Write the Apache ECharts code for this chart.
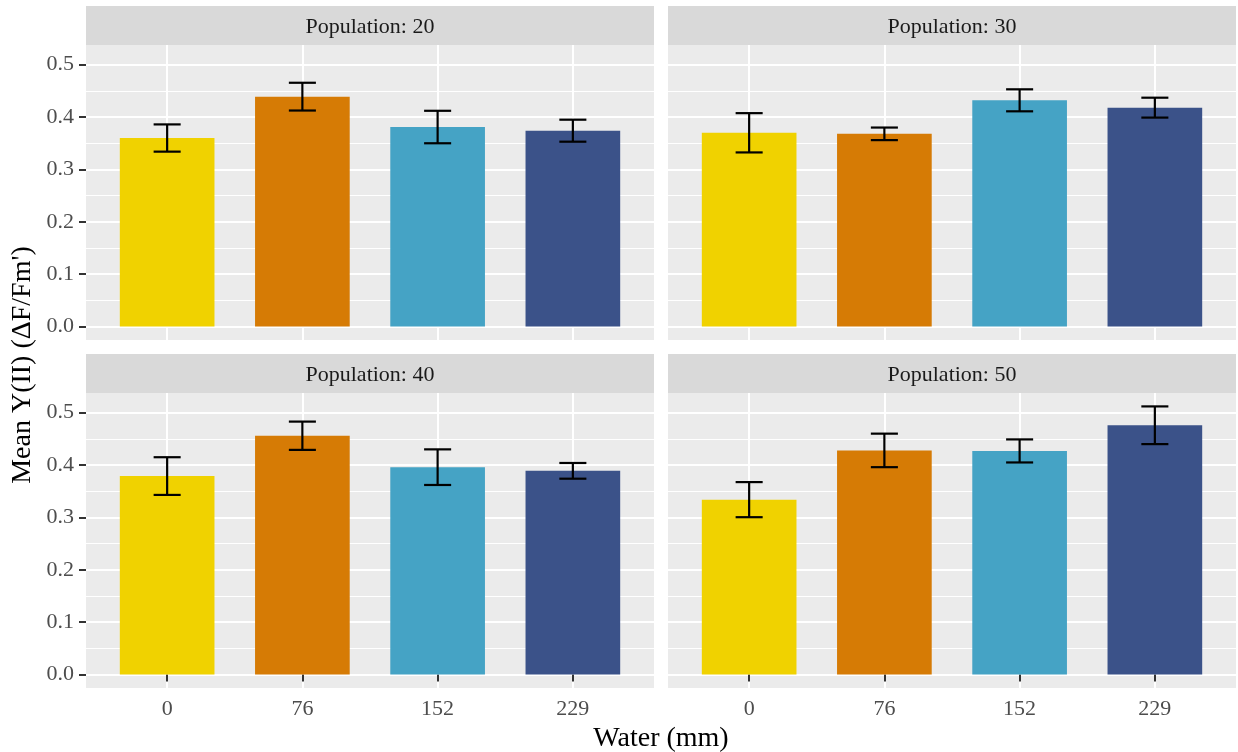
<!DOCTYPE html>
<html>
<head>
<meta charset="utf-8">
<script src="https://cdn.jsdelivr.net/npm/echarts@6/dist/echarts.min.js"></script>
<style>
  html, body { margin: 0; padding: 0; background: #fff; }
  #main { width: 1238px; height: 752px; }
</style>
</head>
<body>
<div id="main"></div>
<script>
// data
const water = ['0', '76', '152', '229'];
const populations = ['20', '30', '40', '50'];
const meanPop20 = [0.360, 0.439, 0.381, 0.374];
const meanPop30 = [0.370, 0.368, 0.432, 0.418];
const meanPop40 = [0.379, 0.456, 0.396, 0.389];
const meanPop50 = [0.334, 0.428, 0.427, 0.476];
const sePop20 = [0.026, 0.0265, 0.031, 0.021];
const sePop30 = [0.0375, 0.012, 0.021, 0.019];
const sePop40 = [0.036, 0.027, 0.034, 0.015];
const sePop50 = [0.0335, 0.032, 0.022, 0.036];
const yTicks = [0, 0.1, 0.2, 0.3, 0.4, 0.5];
const yMinor = [0.05, 0.15, 0.25, 0.35, 0.45];
const barColors = ['#F0D200', '#D67B05', '#45A3C5', '#3B5289'];

const means = [meanPop20, meanPop30, meanPop40, meanPop50];
const ses = [sePop20, sePop30, sePop40, sePop50];

// ggplot style expansion of the shared y scale
let yTop = 0;
means.forEach((m, i) => m.forEach((v, j) => { yTop = Math.max(yTop, v + ses[i][j]); }));
const yMin = -0.05 * yTop, yMax = 1.05 * yTop;

const FONT = '"Liberation Serif", "DejaVu Serif", serif';
const panels = [
  {left: 86, top: 45}, {left: 668, top: 45},
  {left: 86, top: 393}, {left: 668, top: 393}
];
const PW = 568, PH = 295, STRIP = 39;

const chart = echarts.init(document.getElementById('main'));

const grid = [], xAxis = [], yAxis = [], series = [], graphic = [];
panels.forEach((p, i) => {
  grid.push({left: p.left, top: p.top, width: PW, height: PH, show: true,
    backgroundColor: '#EBEBEB', borderWidth: 0, containLabel: false});
  const bottomRow = i >= 2, leftCol = i % 2 === 0;
  xAxis.push({
    type: 'value', gridIndex: i, min: 0.4, max: 4.6,
    axisLine: {show: false},
    axisTick: {show: bottomRow, length: 7, lineStyle: {color: '#333', width: 2}, customValues: [1, 2, 3, 4]},
    axisLabel: {show: bottomRow, customValues: [1, 2, 3, 4], margin: 10, fontSize: 22,
      fontFamily: FONT, color: '#4D4D4D', formatter: v => water[Math.round(v) - 1]},
    splitLine: {show: true, lineStyle: {color: '#fff', width: 2}}
  });
  yAxis.push({
    type: 'value', gridIndex: i, min: yMin, max: yMax,
    axisLine: {show: false},
    axisTick: {show: leftCol, length: 7, lineStyle: {color: '#333', width: 2}, customValues: yTicks},
    axisLabel: {show: leftCol, customValues: yTicks, margin: 12, fontSize: 22,
      fontFamily: FONT, color: '#4D4D4D', formatter: v => v.toFixed(1)},
    splitLine: {show: true, lineStyle: {color: '#fff', width: 2}}
  });
  // minor grid
  yAxis.push({
    type: 'value', gridIndex: i, min: yMin, max: yMax,
    axisLine: {show: false}, axisLabel: {show: false},
    axisTick: {show: false, customValues: yMinor},
    splitLine: {show: true, lineStyle: {color: '#fff', width: 1}}
  });
  const yIdx = i * 2;
  const barData = means[i].map((v, j) => [j + 1, v, j]);
  const errData = means[i].map((v, j) => [j + 1, v - ses[i][j], v + ses[i][j]]);
  series.push({
    type: 'custom', xAxisIndex: i, yAxisIndex: yIdx, data: barData,
    renderItem: (params, api) => {
      const x = api.value(0), y = api.value(1);
      const pTop = api.coord([x, y]);
      const pBase = api.coord([x, 0]);
      const w = api.size([0.7, 0])[0];
      return {type: 'rect',
        shape: {x: pTop[0] - w / 2, y: pTop[1], width: w, height: pBase[1] - pTop[1]},
        style: {fill: barColors[api.value(2)]}};
    }
  });
  series.push({
    type: 'custom', xAxisIndex: i, yAxisIndex: yIdx, data: errData, z: 5,
    renderItem: (params, api) => {
      const x = api.value(0);
      const lo = api.coord([x, api.value(1)]);
      const hi = api.coord([x, api.value(2)]);
      const hw = api.size([0.2, 0])[0] / 2;
      const st = {stroke: '#000', lineWidth: 2.2};
      return {type: 'group', children: [
        {type: 'line', shape: {x1: lo[0], y1: lo[1], x2: hi[0], y2: hi[1]}, style: st},
        {type: 'line', shape: {x1: hi[0] - hw, y1: hi[1], x2: hi[0] + hw, y2: hi[1]}, style: st},
        {type: 'line', shape: {x1: lo[0] - hw, y1: lo[1], x2: lo[0] + hw, y2: lo[1]}, style: st}
      ]};
    }
  });
  // facet strip
  graphic.push({type: 'rect', shape: {x: p.left, y: p.top - STRIP, width: PW, height: STRIP},
    style: {fill: '#D9D9D9'}, silent: true});
  graphic.push({type: 'text', x: p.left + PW / 2, y: p.top - STRIP / 2 + 2,
    style: {text: 'Population: ' + populations[i], font: '22px ' + FONT, fill: '#1A1A1A',
      textAlign: 'center', textVerticalAlign: 'middle'}, silent: true});
});

graphic.push({type: 'text', x: 661, y: 739,
  style: {text: 'Water (mm)', font: '28px ' + FONT, fill: '#000', textAlign: 'center', textVerticalAlign: 'middle'}});
graphic.push({type: 'text', x: 23, y: 365, rotation: Math.PI / 2,
  style: {text: "Mean Y(II) (\u0394F/Fm')", font: '28px ' + FONT, fill: '#000', textAlign: 'center', textVerticalAlign: 'middle'}});

chart.setOption({
  animation: false,
  backgroundColor: '#fff',
  textStyle: {fontFamily: FONT},
  grid, xAxis, yAxis, series, graphic
});
</script>
</body>
</html>
